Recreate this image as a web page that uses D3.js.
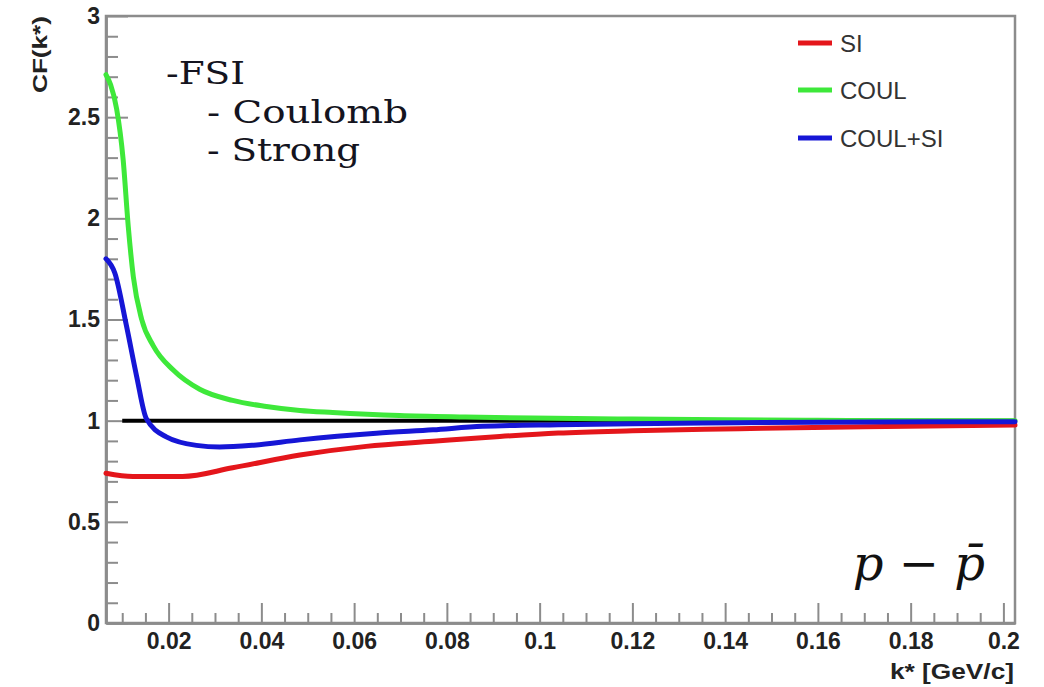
<!DOCTYPE html>
<html>
<head>
<meta charset="utf-8">
<script src="https://cdn.jsdelivr.net/npm/d3@7"></script>
<style>
  html, body { margin: 0; padding: 0; background: #fff; }
  svg { display: block; }
</style>
</head>
<body>
<svg id="chart" width="1044" height="687"></svg>
<script>
// ---- data ----
const seriesNames = ["SI", "COUL", "COUL+SI"];

const kSI   = [0.0065, 0.0123, 0.023, 0.0338, 0.0483, 0.0626, 0.077, 0.0914, 0.104, 0.12, 0.143, 0.17, 0.2025];
const cfSI  = [0.74,   0.724,  0.724, 0.767,  0.83,   0.873,  0.898, 0.922,  0.939, 0.95, 0.96,  0.97, 0.978];

const kCOUL  = [0.0065, 0.0075, 0.0088, 0.0102, 0.0113, 0.0124, 0.0142, 0.0167, 0.021, 0.0267, 0.0338, 0.0411, 0.0483, 0.0554, 0.0698, 0.084, 0.0985, 0.12, 0.14, 0.16, 0.185, 0.2025];
const cfCOUL = [2.71,   2.66,   2.54,   2.29,   1.96,   1.71,   1.50,   1.37,   1.25,  1.155,  1.10,   1.07,   1.05,   1.04,   1.025,  1.018, 1.013,  1.008, 1.004, 1.002, 1.0, 1.0];

const kBOTH  = [0.0065, 0.0084, 0.0109, 0.0131, 0.0152, 0.0195, 0.026, 0.031, 0.038, 0.0483, 0.0648, 0.077, 0.0877, 0.104, 0.12, 0.143, 0.17, 0.2025];
const cfBOTH = [1.80,   1.73,   1.47,   1.22,   1.01,   0.92,   0.878, 0.870, 0.878, 0.905,  0.938,  0.955, 0.972,  0.98,  0.985, 0.99, 0.993, 0.995];

const refLineK = [0.01, 0.2025];
const refLineCF = [1, 1];

const xMajorTicks = [0.02, 0.04, 0.06, 0.08, 0.1, 0.12, 0.14, 0.16, 0.18, 0.2];
const xTickLabels = ["0.02", "0.04", "0.06", "0.08", "0.1", "0.12", "0.14", "0.16", "0.18", "0.2"];
const yMajorTicks = [0, 0.5, 1, 1.5, 2, 2.5, 3];
const yTickLabels = ["0", "0.5", "1", "1.5", "2", "2.5", "3"];

const annotationLines = ["-FSI", "- Coulomb", "- Strong"];

// ---- layout ----
const svg = d3.select("#chart");
const L = 106, R = 1015, T = 16, B = 623;
const x = d3.scaleLinear().domain([0.0065, 0.2025]).range([L, R]);
const y = d3.scaleLinear().domain([0, 3]).range([B, T]);

const colors = { "SI": "#e4161b", "COUL": "#3ee83a", "COUL+SI": "#1616d6" };
const axisGrey = "#8c8c8c";

// frame
svg.append("rect").attr("x", L).attr("y", T).attr("width", R - L).attr("height", B - T)
  .attr("fill", "none").attr("stroke", axisGrey).attr("stroke-width", 2.5);

// minor ticks
const xMinor = d3.range(0.01, 0.2026, 0.005).filter(v => !xMajorTicks.some(m => Math.abs(m - v) < 1e-6));
const yMinor = d3.range(0.1, 3.0, 0.1).filter(v => !yMajorTicks.some(m => Math.abs(m - v) < 1e-6));

const fontTick = "'Liberation Sans', Arial, sans-serif";

function styleAxis(g) {
  g.select(".domain").attr("stroke", axisGrey).attr("stroke-width", 2.5);
  g.selectAll(".tick line").attr("stroke", axisGrey).attr("stroke-width", 2);
  g.selectAll(".tick text").attr("fill", "#222").attr("font-family", fontTick)
    .attr("font-weight", "bold").attr("font-size", 23);
}

svg.append("g").attr("transform", `translate(0,${B})`)
  .call(d3.axisBottom(x).tickValues(xMinor).tickSize(-10).tickSizeOuter(0).tickFormat(""))
  .call(styleAxis);
svg.append("g").attr("transform", `translate(0,${B})`)
  .call(d3.axisBottom(x).tickValues(xMajorTicks).tickSize(-20).tickSizeOuter(0).tickPadding(10)
    .tickFormat((d, i) => xTickLabels[i]))
  .call(styleAxis);

svg.append("g").attr("transform", `translate(${L},0)`)
  .call(d3.axisLeft(y).tickValues(yMinor).tickSize(-12).tickSizeOuter(0).tickFormat(""))
  .call(styleAxis);
svg.append("g").attr("transform", `translate(${L},0)`)
  .call(d3.axisLeft(y).tickValues(yMajorTicks).tickSize(-22).tickSizeOuter(0).tickPadding(6)
    .tickFormat((d, i) => yTickLabels[i]))
  .call(styleAxis);

// axis titles
svg.append("text").attr("transform", `translate(47,16) rotate(-90)`)
  .attr("text-anchor", "end").attr("font-family", fontTick).attr("font-weight", "bold")
  .attr("font-size", 20).attr("fill", "#222").attr("textLength", 77).attr("lengthAdjust", "spacingAndGlyphs")
  .text("CF(k*)");
svg.append("text").attr("x", 1014).attr("y", 679)
  .attr("text-anchor", "end").attr("font-family", fontTick).attr("font-weight", "bold")
  .attr("font-size", 22).attr("fill", "#222").attr("textLength", 124).attr("lengthAdjust", "spacingAndGlyphs")
  .text("k* [GeV/c]");

// curves
const line = d3.line().x(d => x(d[0])).y(d => y(d[1])).curve(d3.curveMonotoneX);
const plot = svg.append("g");

plot.append("path").datum(d3.zip(refLineK, refLineCF)).attr("d", line)
  .attr("fill", "none").attr("stroke", "#000").attr("stroke-width", 4);

const seriesData = {
  "SI": d3.zip(kSI, cfSI),
  "COUL": d3.zip(kCOUL, cfCOUL),
  "COUL+SI": d3.zip(kBOTH, cfBOTH)
};
seriesNames.forEach(n => {
  plot.append("path").datum(seriesData[n]).attr("d", line)
    .attr("fill", "none").attr("stroke", colors[n]).attr("stroke-width", 5)
    .attr("stroke-linejoin", "round").attr("stroke-linecap", "round");
});

// legend
const legY = [43, 90, 138];
const leg = svg.append("g");
seriesNames.forEach((n, i) => {
  leg.append("line").attr("x1", 798).attr("x2", 832).attr("y1", legY[i]).attr("y2", legY[i])
    .attr("stroke", colors[n]).attr("stroke-width", 5);
  leg.append("text").attr("x", 840).attr("y", legY[i]).attr("dy", "0.36em")
    .attr("font-family", fontTick).attr("font-size", 24).attr("fill", "#333").text(n);
});

// annotation
const annX = [166, 207, 207], annY = [84, 123, 161], annW = [79, 201, 153];
annotationLines.forEach((t, i) => {
  svg.append("text").attr("x", annX[i]).attr("y", annY[i])
    .attr("font-family", "'DejaVu Serif', serif").attr("font-size", 32).attr("fill", "#141420")
    .attr("textLength", annW[i]).attr("lengthAdjust", "spacingAndGlyphs")
    .text(t);
});

// p - pbar label
svg.append("text").attr("x", 985).attr("y", 580).attr("text-anchor", "end")
  .attr("font-family", "'DejaVu Serif', serif").attr("font-style", "italic")
  .attr("font-size", 48).attr("fill", "#111")
  .text("p \u2212 p\u0304");
</script>
</body>
</html>
